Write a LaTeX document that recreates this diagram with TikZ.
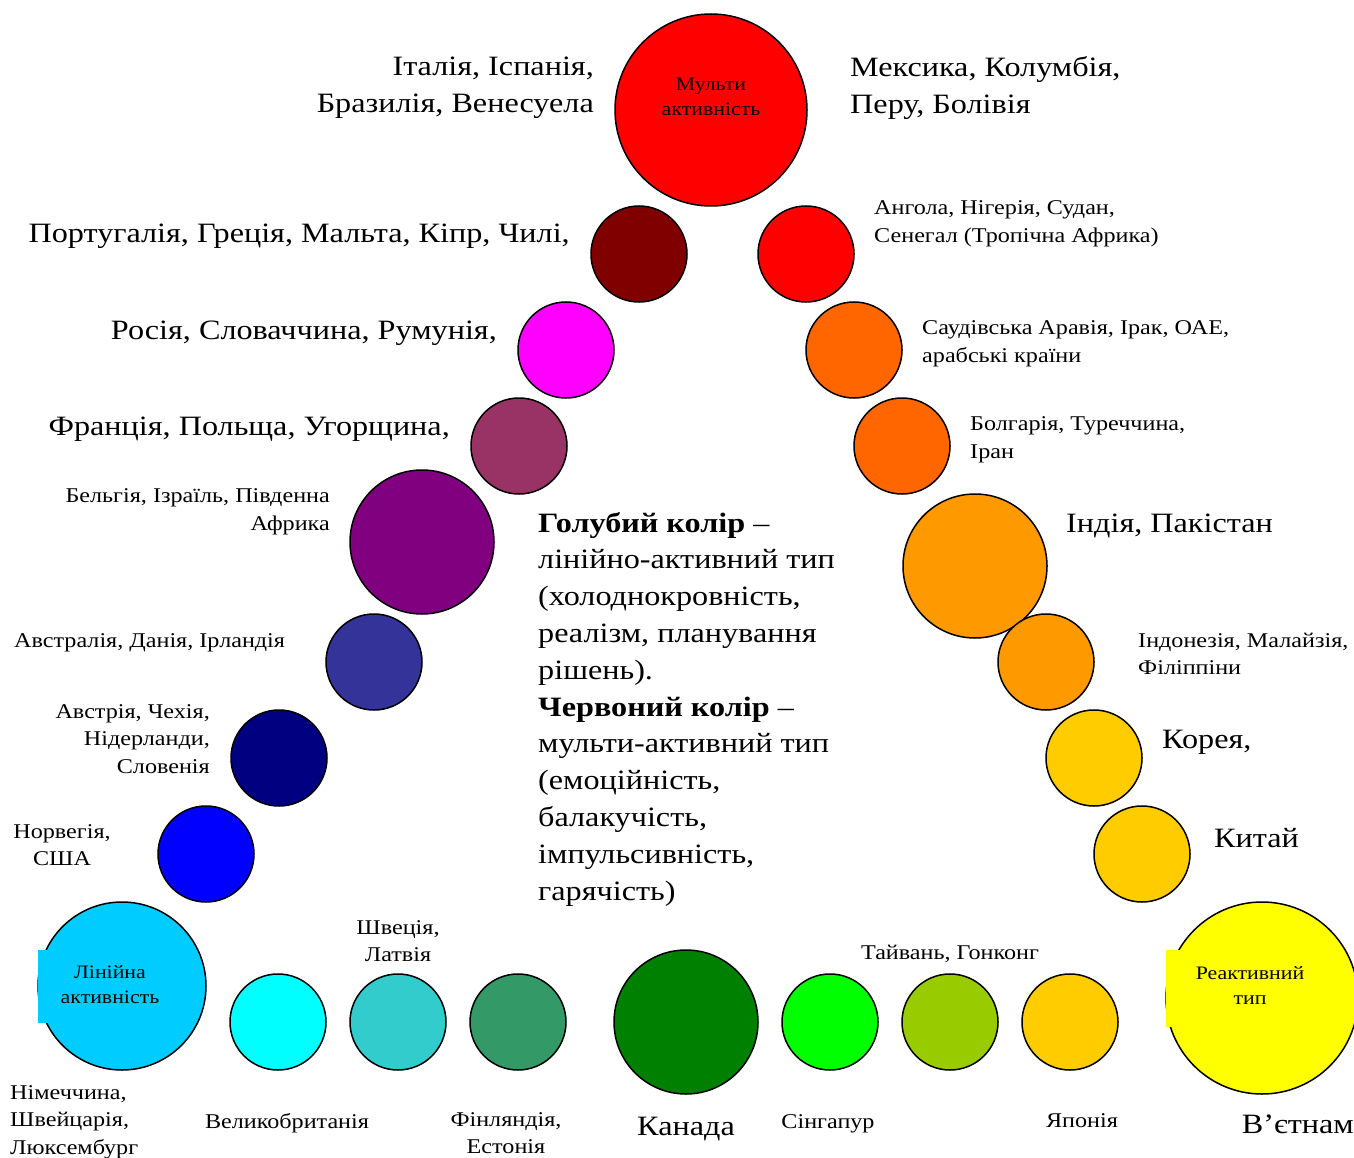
\documentclass[tikz,border=0pt]{standalone}
\usepackage{fontspec}
\setmainfont{Liberation Serif}
\newfontfamily\widefont[FakeStretch=1.15]{Liberation Serif}
\definecolor{cRed}{HTML}{FF0000}
\definecolor{cMaroon}{HTML}{800000}
\definecolor{cMagenta}{HTML}{FF00FF}
\definecolor{cPlum}{HTML}{993366}
\definecolor{cPurple}{HTML}{800080}
\definecolor{cIndigo}{HTML}{333399}
\definecolor{cNavy}{HTML}{000080}
\definecolor{cBlue}{HTML}{0000FF}
\definecolor{cSky}{HTML}{00CCFF}
\definecolor{cCyan}{HTML}{00FFFF}
\definecolor{cTeal}{HTML}{33CCCC}
\definecolor{cSea}{HTML}{339966}
\definecolor{cGreen}{HTML}{008000}
\definecolor{cLime}{HTML}{00FF00}
\definecolor{cOlive}{HTML}{99CC00}
\definecolor{cGold}{HTML}{FFCC00}
\definecolor{cYellow}{HTML}{FFFF00}
\definecolor{cOrange}{HTML}{FF6600}
\definecolor{cAmber}{HTML}{FF9900}
\tikzset{
  ball/.style={circle, draw=black, line width=1.5pt, inner sep=0pt, minimum size=#1},
  big/.style={font=\widefont\fontsize{28}{37}\selectfont, inner sep=0pt},
  mid/.style={font=\widefont\fontsize{21}{27.5}\selectfont, inner sep=0pt},
  inlab/.style={font=\widefont\fontsize{19}{25}\selectfont, inner sep=0pt, align=center},
  legendtxt/.style={font=\widefont\fontsize{28}{36.8}\selectfont, inner sep=0pt},
}
\begin{document}
\begin{tikzpicture}[x=1pt,y=-1pt]
\path[use as bounding box] (0,0) rectangle (1354,1158);
\clip (0,0) rectangle (1354,1158);
% circles
\node[ball=192, fill=cRed] (multi) at (711,110) {};
\node[ball=96, fill=cMaroon] (c1) at (639,254) {};
\node[ball=96, fill=cRed] (d1) at (806,254) {};
\node[ball=96, fill=cMagenta] (c2) at (566,350) {};
\node[ball=96, fill=cOrange] (d2) at (854,350) {};
\node[ball=96, fill=cPlum] (c3) at (519,446) {};
\node[ball=96, fill=cOrange] (d3) at (902,446) {};
\node[ball=144, fill=cPurple] (c4) at (422,542) {};
\node[ball=144, fill=cAmber] (d4) at (975,566) {};
\node[ball=96, fill=cIndigo] (c5) at (374,662) {};
\node[ball=96, fill=cAmber] (d5) at (1046,662) {};
\node[ball=96, fill=cNavy] (c6) at (279,758) {};
\node[ball=96, fill=cGold] (d6) at (1094,758) {};
\node[ball=96, fill=cBlue] (c7) at (206,854) {};
\node[ball=96, fill=cGold] (d7) at (1142,854) {};
\node[ball=168, fill=cSky] (lin) at (122,986) {};
\node[ball=96, fill=cCyan] (b1) at (278,1022) {};
\node[ball=96, fill=cTeal] (b2) at (398,1022) {};
\node[ball=96, fill=cSea] (b3) at (518,1022) {};
\node[ball=144, fill=cGreen] (b4) at (686,1022) {};
\node[ball=96, fill=cLime] (b5) at (830,1022) {};
\node[ball=96, fill=cOlive] (b6) at (950,1022) {};
\node[ball=96, fill=cGold] (b7) at (1070,1022) {};
\node[ball=192, fill=cYellow] (react) at (1262,998) {};
% text box fills
\fill[cSky] (38,950) rectangle (180,1023);
\fill[cYellow] (1166,950) rectangle (1320,1027);
% circle labels
\node[inlab] (tmulti) at (711,97) {Мульти\\активність};
\node[inlab] (tlin) at (110,985) {Лінійна\\активність};
\node[inlab] (treact) at (1250,985) {Реактивний\\тип};
% top labels
\node[big, anchor=east, align=right] (l0) at (594,88) {Італія, Іспанія,\\Бразилія, Венесуела};
\node[big, anchor=west, align=left] (r0) at (850,88) {Мексика, Колумбія,\\Перу, Болівія};
% left labels
\node[big, anchor=base east] (l1) at (570,243) {Португалія, Греція, Мальта, Кіпр, Чилі,};
\node[big, anchor=base east] (l2) at (497,339) {Росія, Словаччина, Румунія,};
\node[big, anchor=base east] (l3) at (450,435) {Франція, Польща, Угорщина,};
\node[mid, anchor=east, align=right] (l4) at (330,512) {Бельгія, Ізраїль, Південна\\Африка};
\node[mid, anchor=base west] (l5) at (14,647) {Австралія, Данія, Ірландія};
\node[mid, anchor=east, align=right] (l6) at (210,739) {Австрія, Чехія,\\Нідерланди,\\Словенія};
\node[mid, align=center] (l7) at (62,845) {Норвегія,\\США};
% right labels
\node[mid, anchor=west, align=left] (r1) at (874,224) {Ангола, Нігерія, Судан,\\Сенегал (Тропічна Африка)};
\node[mid, anchor=west, align=left] (r2) at (922,344) {Саудівська Аравія, Ірак, ОАЕ,\\арабські країни};
\node[mid, anchor=west, align=left] (r3) at (970,440) {Болгарія, Туреччина,\\Іран};
\node[big, anchor=base west] (r4) at (1066,532) {Індія, Пакістан};
\node[mid, anchor=west, align=left] (r5) at (1138,654) {Індонезія, Малайзія,\\Філіппіни};
\node[big, anchor=base west] (r6) at (1162,748) {Корея,};
\node[big, anchor=base west] (r7) at (1214,847) {Китай};
% bottom labels
\node[mid, anchor=west, align=left] (bl0) at (10,1122) {Німеччина,\\Швейцарія,\\Люксембург};
\node[mid, anchor=base] (bl1) at (287,1128) {Великобританія};
\node[mid, align=center] (bl2) at (398,941) {Швеція,\\Латвія};
\node[mid, align=center] (bl3) at (506,1133) {Фінляндія,\\Естонія};
\node[big, anchor=base] (bl4) at (686,1135) {Канада};
\node[mid, anchor=base] (bl5) at (828,1128) {Сінгапур};
\node[mid, anchor=base] (bl6) at (950,959) {Тайвань, Гонконг};
\node[mid, anchor=base] (bl7) at (1082,1127) {Японія};
\node[big, anchor=base east] (bl8) at (1354,1133) {В’єтнам};
% central legend
\node[legendtxt, anchor=west, align=left] (legend) at (538,709) {\textbf{Голубий колір} –\\лінійно-активний тип\\(холоднокровність,\\реалізм, планування\\рішень).\\\textbf{Червоний колір} –\\мульти-активний тип\\(емоційність,\\балакучість,\\імпульсивність,\\гарячість)};
\end{tikzpicture}
\end{document}
